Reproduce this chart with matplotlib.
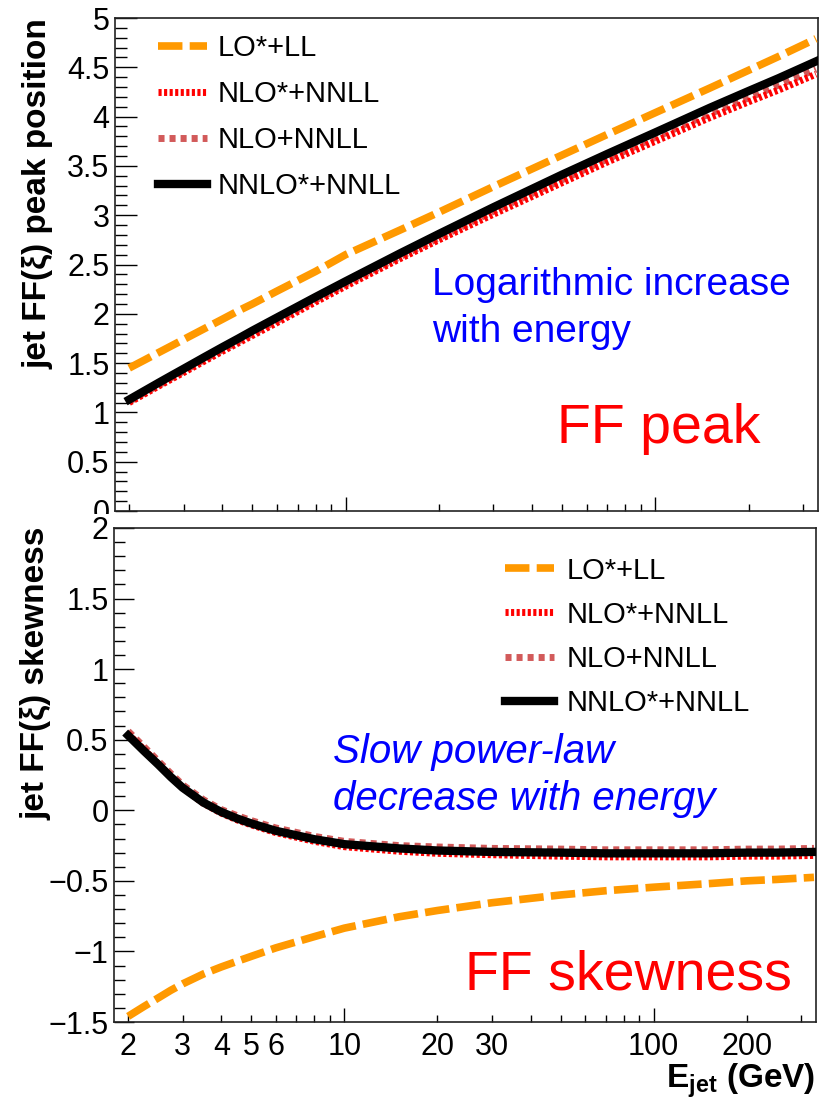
import numpy as np
import matplotlib
matplotlib.use('Agg')
import matplotlib.pyplot as plt
from matplotlib.patches import Rectangle
from matplotlib.ticker import FixedLocator, FuncFormatter, MultipleLocator

# jet energies (GeV) where the curves are read
E_jet = [2, 2.25, 2.5, 2.75, 3, 3.5, 4, 4.5, 5, 6, 8, 10, 15, 20, 30, 50, 70,
         100, 150, 200, 250, 330]

# FF peak position
peak_lo = [1.45, 1.534, 1.61, 1.678, 1.74, 1.85, 1.945, 2.03, 2.10, 2.23, 2.43,
           2.60, 2.85, 3.03, 3.29, 3.61, 3.82, 4.04, 4.29, 4.47, 4.61, 4.79]
peak_nlo_star = [1.10, 1.19, 1.27, 1.341, 1.405, 1.521, 1.62, 1.704, 1.78, 1.91,
                 2.12, 2.28, 2.56, 2.75, 3.01, 3.33, 3.54, 3.75, 3.99, 4.15,
                 4.27, 4.43]
peak_nlo = [1.11, 1.203, 1.28, 1.355, 1.42, 1.537, 1.636, 1.722, 1.80, 1.93,
            2.14, 2.30, 2.58, 2.77, 3.04, 3.36, 3.57, 3.79, 4.03, 4.19, 4.32, 4.48]
peak_nnlo = [1.13, 1.222, 1.304, 1.377, 1.443, 1.561, 1.662, 1.749, 1.829, 1.962,
             2.171, 2.33, 2.614, 2.81, 3.081, 3.412, 3.622, 3.84, 4.09, 4.26,
             4.39, 4.56]

# FF skewness
skew_lo = [-1.46, -1.39, -1.33, -1.275, -1.23, -1.16, -1.11, -1.07, -1.035,
           -0.975, -0.895, -0.835, -0.755, -0.71, -0.655, -0.60, -0.57, -0.545,
           -0.52, -0.50, -0.49, -0.475]
skew_nlo_star = [0.54, 0.43, 0.33, 0.24, 0.16, 0.05, -0.02, -0.068, -0.103,
                 -0.158, -0.22, -0.258, -0.29, -0.305, -0.315, -0.325, -0.33,
                 -0.33, -0.33, -0.325, -0.325, -0.32]
skew_nlo = [0.56, 0.45, 0.35, 0.26, 0.18, 0.075, 0.005, -0.038, -0.073, -0.125,
            -0.185, -0.22, -0.25, -0.26, -0.27, -0.275, -0.28, -0.28, -0.28,
            -0.275, -0.275, -0.27]
skew_nnlo = [0.53, 0.42, 0.325, 0.235, 0.16, 0.055, -0.012, -0.058, -0.093,
             -0.145, -0.205, -0.24, -0.27, -0.285, -0.295, -0.30, -0.305, -0.305,
             -0.305, -0.30, -0.30, -0.295]

labels = ['LO*+LL', 'NLO*+NNLL', 'NLO+NNLL', 'NNLO*+NNLL']
labelled_minor = [2, 3, 4, 5, 6, 20, 30, 200]

plt.rcParams['font.family'] = ['Liberation Sans', 'DejaVu Sans']
plt.rcParams['mathtext.fontset'] = 'custom'
plt.rcParams['mathtext.rm'] = 'Liberation Sans'
plt.rcParams['mathtext.bf'] = 'Liberation Sans:bold'
plt.rcParams['mathtext.it'] = 'Liberation Sans:italic'

W, H = 828, 1107
fig = plt.figure(figsize=(W / 100, H / 100), dpi=100)


def px(x, y):
    # pixel position -> figure fraction
    return x / W, 1 - y / H


def draw_curves(ax, lo, nlo_star, nlo, nnlo):
    ax.plot(E_jet, lo, color='#ff9900', lw=5.5, ls=(0, (3.2, 0.95)), label=labels[0], zorder=3)
    ax.plot(E_jet, nlo, color='#d25a5a', lw=5, ls=(0, (0.87, 0.72)), label=labels[2], zorder=3)
    ax.plot(E_jet, nlo_star, color='#ff0000', lw=5, ls=(0, (0.45, 0.35)), label=labels[1], zorder=4)
    ax.plot(E_jet, nnlo, color='black', lw=6, label=labels[3], zorder=5)
    handles, labs = ax.get_legend_handles_labels()
    return [handles[labs.index(l)] for l in labels]


def style_axes(ax, ylo, yhi, ymaj_len, ymin_len, show_xlabels):
    ax.set_xscale('log')
    ax.set_xlim(1.8, 335)
    ax.set_ylim(ylo, yhi)
    ax.xaxis.set_major_locator(FixedLocator([10, 100]))
    ax.xaxis.set_minor_locator(FixedLocator([2, 3, 4, 5, 6, 7, 8, 9, 20, 30, 40, 50,
                                             60, 70, 80, 90, 200, 300]))
    ax.yaxis.set_major_locator(MultipleLocator(0.5))
    ax.yaxis.set_minor_locator(MultipleLocator(0.1))
    yfmt = FuncFormatter(lambda v, p: ('%g' % round(v, 2)).replace('-', '\u2212'))
    ax.yaxis.set_major_formatter(yfmt)
    if show_xlabels:
        ax.xaxis.set_major_formatter(FuncFormatter(lambda v, p: '%g' % v))
        ax.xaxis.set_minor_formatter(FuncFormatter(
            lambda v, p: ('%g' % v) if round(v) in labelled_minor else ''))
    else:
        ax.xaxis.set_major_formatter(FuncFormatter(lambda v, p: ''))
        ax.xaxis.set_minor_formatter(FuncFormatter(lambda v, p: ''))
    ax.tick_params(axis='x', which='major', direction='in', length=10, width=1,
                   top=False, labelsize=22, pad=7)
    ax.tick_params(axis='x', which='minor', direction='in', length=5, width=1,
                   top=False, labelsize=22, pad=7)
    ax.tick_params(axis='y', which='major', direction='in', length=ymaj_len, width=1,
                   right=False, labelsize=22, pad=4)
    ax.tick_params(axis='y', which='minor', direction='in', length=ymin_len, width=1,
                   right=False)
    for s in ax.spines.values():
        s.set_linewidth(1.2)
        s.set_color('#222222')


# upper panel: FF peak position
x0, y0 = px(115, 511)
x1, y1 = px(818, 18)
ax1 = fig.add_axes([x0, y0, x1 - x0, y1 - y0], zorder=0)
h1 = draw_curves(ax1, peak_lo, peak_nlo_star, peak_nlo, peak_nnlo)
style_axes(ax1, 0, 5, 15.5, 8.5, False)
ax1.legend(h1, labels, loc='upper left', bbox_to_anchor=(0.0612, 0.9675),
           frameon=False, fontsize=21, handlelength=1.68, handletextpad=0.38,
           labelspacing=0.62, borderpad=0, borderaxespad=0)

# white pad of the lower panel hides the bottom of the upper "0" label
fig.add_artist(Rectangle((0, 0), 1, 1 - 514 / H, transform=fig.transFigure,
                         facecolor='white', edgecolor='none', zorder=1))

# lower panel: FF skewness
x0, y0 = px(114, 1022)
x1, y1 = px(816, 528)
ax2 = fig.add_axes([x0, y0, x1 - x0, y1 - y0], zorder=2)
h2 = draw_curves(ax2, skew_lo, skew_nlo_star, skew_nlo, skew_nnlo)
style_axes(ax2, -1.5, 2, 14.5, 8, True)
ax2.legend(h2, labels, loc='upper left', bbox_to_anchor=(0.557, 0.942),
           frameon=False, fontsize=21, handlelength=1.68, handletextpad=0.42,
           labelspacing=0.55, borderpad=0, borderaxespad=0)

# axis titles
fig.text(*px(38, 18), 'jet FF(ξ) peak position', rotation=90, ha='center', va='top',
         fontsize=24, fontweight='bold')
fig.text(*px(36, 527), 'jet FF(ξ) skewness', rotation=90, ha='center', va='top',
         fontsize=24, fontweight='bold')
fig.text(*px(815, 1081), r'$\mathbf{E_{jet}}$ (GeV)', ha='right', va='center',
         fontsize=24, fontweight='bold')

# annotations
fig.text(*px(432, 295), 'Logarithmic increase', color='#0000ff', fontsize=28, va='baseline')
fig.text(*px(432, 342), 'with energy', color='#0000ff', fontsize=28, va='baseline')
fig.text(*px(557, 443), 'FF peak', color='#ff0000', fontsize=40, va='baseline')
fig.text(*px(333, 763), 'Slow power-law', color='#0000ff', fontsize=29,
         style='italic', va='baseline')
fig.text(*px(333, 810), 'decrease with energy', color='#0000ff', fontsize=29,
         style='italic', va='baseline')
fig.text(*px(465, 990), 'FF skewness', color='#ff0000', fontsize=40, va='baseline')

fig.savefig('out.png', dpi=100)
print('saved out.png')
